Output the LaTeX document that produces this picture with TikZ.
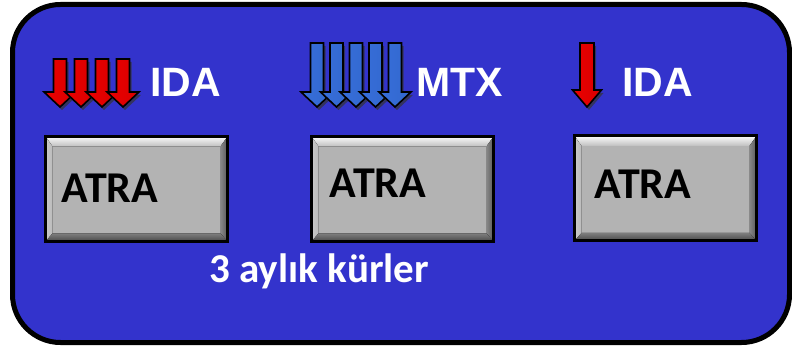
\documentclass[tikz,border=0pt]{standalone}
\usepackage{fontspec}
\setmainfont{Liberation Sans}
\newfontfamily\calibri{Carlito}
\usepackage{xcolor}
\definecolor{panel-blue}{HTML}{3333CC}
\definecolor{face-gray}{HTML}{B3B3B3}
\definecolor{arrow-red}{HTML}{FF0000}
\definecolor{arrow-blue}{HTML}{3C7AF2}

\newcommand{\arrowoutline}[6]{(#1-#5,#2) -- (#1+#5,#2) -- (#1+#5,#3) -- (#1+#6,#3) -- (#1,#4) -- (#1-#6,#3) -- (#1-#5,#3) -- cycle}

\tikzset{
  atrabox/.style={fill=face-gray, inner sep=0pt, outer sep=0pt,
                  minimum width=182pt, minimum height=105pt},
  atratext/.style={anchor=base, inner sep=0pt, text=black,
                   font=\calibri\bfseries\fontsize{44}{50}\selectfont},
  druglabel/.style={anchor=base, inner sep=0pt, text=white,
                    font=\bfseries\fontsize{41}{48}\selectfont},
  arrowshadow/.style={fill=black!80, opacity=0.7, xshift=2pt, yshift=-3pt},
  redarrow/.style={draw=black, line width=1.6pt, line join=miter,
                   left color=arrow-red!92!black, middle color=arrow-red,
                   right color=arrow-red!85!black},
  bluearrow/.style={draw=black, line width=1.6pt, line join=miter,
                    left color=arrow-blue!90!black, middle color=arrow-blue!90!white,
                    right color=arrow-blue!85!black}
}

\begin{document}
\begin{tikzpicture}[x=1pt, y=-1pt]
    \useasboundingbox (0,0) rectangle (792,347);
    \draw[line width=5pt, fill=panel-blue, rounded corners=48pt] (12.5,4.5) rectangle (789.5,342.5);

    \node[atrabox] (box1) at (136.5,189) {};
    \node[atrabox] (box2) at (402.5,189) {};
    \node[atrabox] (box3) at (665.5,188.5) {};
    \foreach \b in {box1,box2,box3} {
      \fill[top color=white!95!face-gray, bottom color=face-gray!85!white]
        (\b.north west) -- (\b.north east) -- ([shift={(-7,10)}]\b.north east) -- ([shift={(7,10)}]\b.north west) -- cycle;
      \fill[left color=face-gray!70!white, right color=face-gray!90!white]
        (\b.north west) -- ([shift={(7,10)}]\b.north west) -- ([shift={(7,-8)}]\b.south west) -- (\b.south west) -- cycle;
      \fill[left color=face-gray!75!black, right color=face-gray!50!black]
        (\b.north east) -- ([shift={(-7,10)}]\b.north east) -- ([shift={(-7,-8)}]\b.south east) -- (\b.south east) -- cycle;
      \fill[top color=face-gray!70!black, bottom color=face-gray!40!black]
        (\b.south west) -- (\b.south east) -- ([shift={(-7,-8)}]\b.south east) -- ([shift={(7,-8)}]\b.south west) -- cycle;
      \draw[line width=3pt] (\b.north west) rectangle (\b.south east);
    }
    \node[atratext] (atra1) at (110,203) {ATRA};
    \node[atratext] (atra2) at (378,198) {ATRA};
    \node[atratext] (atra3) at (643,199) {ATRA};

    \foreach \cx in {60,81,102,123} {
      \fill[arrowshadow] \arrowoutline{\cx}{59}{92}{107}{6.5}{16};
      \draw[redarrow] \arrowoutline{\cx}{59}{92}{107}{6.5}{16};
    }
    \foreach \cx in {317,336.5,356,375.5,395} {
      \fill[arrowshadow] \arrowoutline{\cx}{43}{92}{107}{6.5}{16};
      \draw[bluearrow] \arrowoutline{\cx}{43}{92}{107}{6.5}{16};
    }
    \fill[arrowshadow] \arrowoutline{587}{43}{90}{107}{7}{14.5};
    \draw[redarrow] \arrowoutline{587}{43}{90}{107}{7}{14.5};

    \node[druglabel] (ida1) at (185.5,97) {IDA};
    \node[druglabel] (mtx) at (460,97) {MTX};
    \node[druglabel] (ida2) at (657.5,97) {IDA};
    \node[druglabel, font=\calibri\bfseries\fontsize{41}{48}\selectfont] (cure) at (319,283) {3 aylık kürler};
\end{tikzpicture}
\end{document}
